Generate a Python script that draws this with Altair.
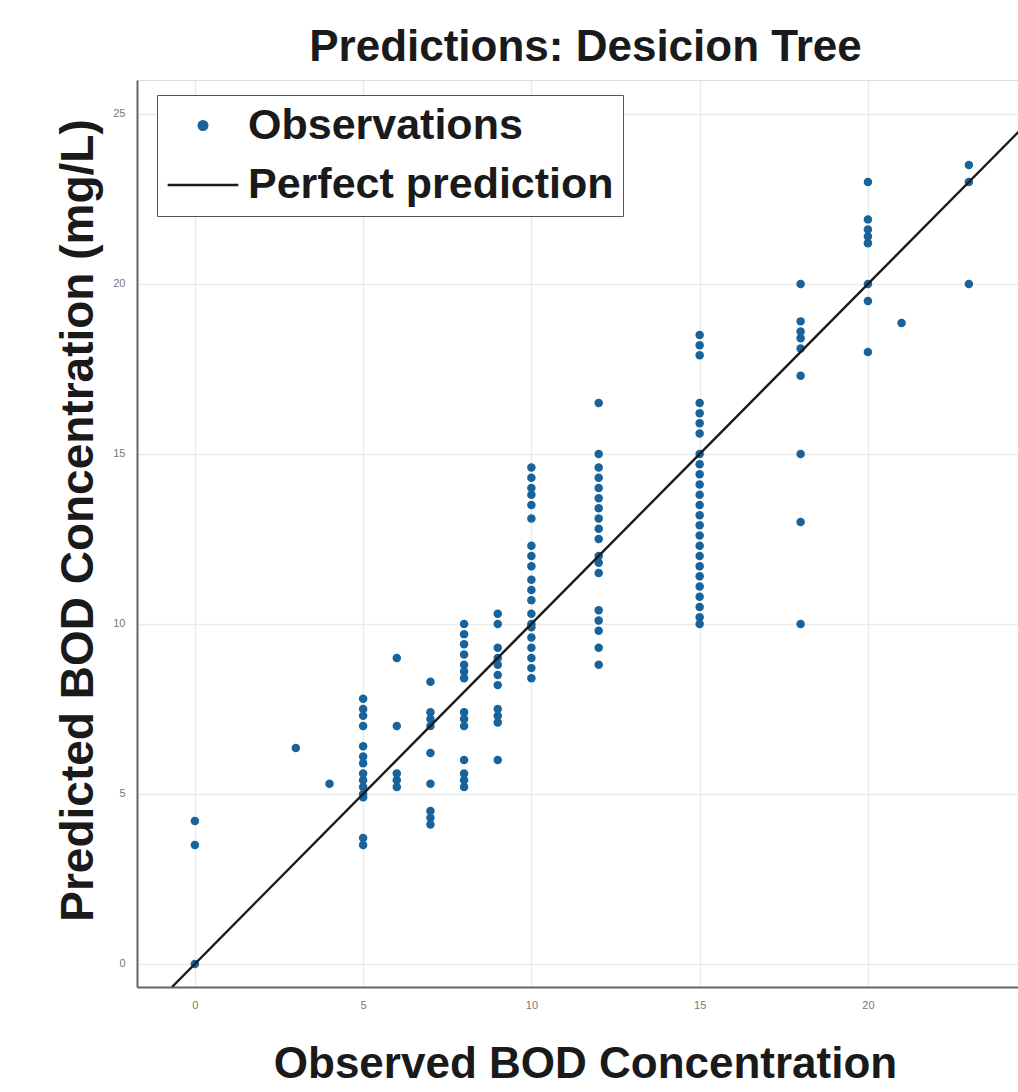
import altair as alt
import pandas as pd

# ---- data ----
observed_levels = [0, 3, 4, 5, 6, 7, 8, 9, 10, 12, 15, 18, 20, 21, 23]

pred_at_0 = [4.2, 3.5, 0.0]
pred_at_3 = [6.35]
pred_at_4 = [5.3]
pred_at_5 = [7.8, 7.5, 7.3, 7.0, 6.4, 6.1, 5.9, 5.6, 5.4, 5.2, 5.0, 4.9, 3.7, 3.5]
pred_at_6 = [9.0, 7.0, 5.6, 5.4, 5.2]
pred_at_7 = [8.3, 7.4, 7.2, 7.0, 6.2, 5.3, 4.5, 4.3, 4.1]
pred_at_8 = [10.0, 9.7, 9.4, 9.1, 8.8, 8.6, 8.4, 7.4, 7.2, 7.0, 6.0, 5.6, 5.4, 5.2]
pred_at_9 = [10.3, 10.0, 9.3, 9.0, 8.8, 8.5, 8.2, 7.5, 7.3, 7.1, 6.0]
pred_at_10 = [14.6, 14.3, 14.0, 13.8, 13.5, 13.1, 12.3, 12.0, 11.7, 11.3, 11.0,
              10.7, 10.3, 10.0, 9.9, 9.6, 9.3, 9.0, 8.7, 8.4]
pred_at_12 = [16.5, 15.0, 14.6, 14.3, 14.0, 13.7, 13.4, 13.1, 12.8, 12.5, 12.0,
              11.8, 11.5, 10.4, 10.1, 9.8, 9.3, 8.8]
pred_at_15 = [18.5, 18.2, 17.9, 16.5, 16.2, 15.9, 15.6, 15.0, 14.7, 14.4, 14.1,
              13.8, 13.5, 13.2, 12.9, 12.6, 12.3, 12.0, 11.7, 11.4, 11.1, 10.8,
              10.5, 10.2, 10.0]
pred_at_18 = [20.0, 18.9, 18.6, 18.4, 18.1, 17.3, 15.0, 13.0, 10.0]
pred_at_20 = [23.0, 21.9, 21.6, 21.4, 21.2, 20.0, 19.5, 18.0]
pred_at_21 = [18.85]
pred_at_23 = [23.5, 23.0, 20.0]

predicted_by_level = [pred_at_0, pred_at_3, pred_at_4, pred_at_5, pred_at_6,
                      pred_at_7, pred_at_8, pred_at_9, pred_at_10, pred_at_12,
                      pred_at_15, pred_at_18, pred_at_20, pred_at_21, pred_at_23]

perfect_line = [-0.68, 26.0]

series_names = ["Observations", "Perfect prediction"]
x_ticks = [0, 5, 10, 15, 20, 25]
y_ticks = [0, 5, 10, 15, 20, 25]

# ---- tables ----
rows = []
for lvl, preds in zip(observed_levels, predicted_by_level):
    for p in preds:
        rows.append({"observed": lvl, "predicted": p, "series": series_names[0]})
obs_df = pd.DataFrame(rows)
line_df = pd.DataFrame({"observed": perfect_line, "predicted": perfect_line,
                        "series": series_names[1]})

FONT = "Liberation Sans"
BLUE = "#19639c"
DARK = "#1a1a1a"

x_scale = alt.Scale(domain=[-1.72, 24.46], nice=False, zero=False)
y_scale = alt.Scale(domain=[-0.68, 26.0], nice=False, zero=False)

color_scale = alt.Scale(domain=series_names, range=[BLUE, DARK])
shape_scale = alt.Scale(domain=series_names, range=["circle", "stroke"])
size_scale = alt.Scale(domain=series_names, range=[72, 5000])

legend = alt.Legend(
    title=None, orient="none", legendX=20, legendY=15,
    labelFont=FONT, labelFontSize=43, labelFontWeight="bold", labelColor="#1a1a1a",
    labelLimit=0,
    fillColor="white", strokeColor="#555555", padding=9,
    symbolStrokeColor=DARK, symbolStrokeWidth=2.5, labelOffset=8, rowPadding=0,
)

x_axis = alt.Axis(values=x_ticks, title="Observed BOD Concentration",
                  titleFont=FONT, titleFontSize=44, titleFontWeight="bold",
                  titleColor="#1a1a1a", titlePadding=32, titleX=448,
                  labelFont=FONT, labelFontSize=11, labelColor="#777777",
                  labelPadding=12, ticks=False, domainColor="#666666",
                  domainWidth=2, gridColor="#ebebeb", gridWidth=1.5)
y_axis = alt.Axis(values=y_ticks, title="Predicted BOD Concentration (mg/L)",
                  titleFont=FONT, titleFontSize=46, titleFontWeight="bold",
                  titleColor="#1a1a1a", titlePadding=10, titleY=440,
                  labelFont=FONT, labelFontSize=11, labelColor="#777777",
                  labelPadding=12, ticks=False, domainColor="#666666",
                  domainWidth=2, gridColor="#ebebeb", gridWidth=1.5)

points = alt.Chart(obs_df).mark_point(filled=True, opacity=1, clip=True).encode(
    x=alt.X("observed:Q", scale=x_scale, axis=x_axis),
    y=alt.Y("predicted:Q", scale=y_scale, axis=y_axis),
    color=alt.Color("series:N", scale=color_scale, legend=legend),
    shape=alt.Shape("series:N", scale=shape_scale, legend=legend),
    size=alt.Size("series:N", scale=size_scale, legend=legend),
)

line = alt.Chart(line_df).mark_line(strokeWidth=2.4, clip=True).encode(
    x=alt.X("observed:Q", scale=x_scale),
    y=alt.Y("predicted:Q", scale=y_scale),
    color=alt.Color("series:N", scale=color_scale, legend=legend),
)

chart = alt.layer(points, line).properties(
    width=881, height=907,
    title=alt.Title("Predictions: Desicion Tree", font=FONT, fontSize=44,
                    fontWeight="bold", color="#1a1a1a", anchor="middle", offset=10,
                    dx=8),
    padding={"left": 137, "top": 80, "right": 0, "bottom": 105},
    autosize=alt.AutoSizeParams(type="none"),
).configure_view(stroke=None).configure(background="white")

chart.save("out.html", embed_options={"renderer": "svg", "actions": False})
